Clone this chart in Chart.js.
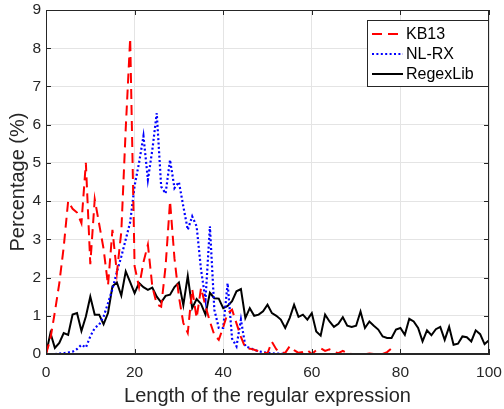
<!DOCTYPE html>
<html><head><meta charset="utf-8">
<script src="https://cdn.jsdelivr.net/npm/chart.js@4/dist/chart.umd.min.js"></script>
<style>html,body{margin:0;padding:0;background:#fff}#wrap{width:504px;height:409px}canvas{display:block}</style>
</head><body>
<div id="wrap"><canvas id="c" width="504" height="409"></canvas></div>
<script>
const lengths = [0,1,2,3,4,5,6,7,8,9,10,11,12,13,14,15,16,17,18,19,20,21,22,23,24,25,26,27,28,29,30,31,32,33,34,35,36,37,38,39,40,41,42,43,44,45,46,47,48,49,50,51,52,53,54,55,56,57,58,59,60,61,62,63,64,65,66,67,68,69,70,71,72,73,74,75,76,77,78,79,80,81,82,83,84,85,86,87,88,89,90,91,92,93,94,95,96,97,98,99,100];
const seriesNames = ["KB13", "NL-RX", "RegexLib"];
const kb13 = [0,0.4,1.1,1.85,2.8,4.0,3.8,3.7,3.42,5.0,2.35,4.05,3.4,2.75,1.8,3.25,2.12,3.2,5.9,8.26,2.3,1.75,2.4,2.86,1.77,1.3,1.24,2.3,4.0,2.5,1.5,0.81,0.55,1.7,0.94,1.73,1.25,0.85,0.5,0.37,0.7,1.07,1.16,0.8,0.45,0.16,0.14,0.11,0.07,0.04,0.02,0.32,0.12,0.04,0.03,0.2,0.1,0.03,0.05,0.1,0.0,0.1,0.15,0.08,0.12,0.06,0.02,0.08,0.02,0,0,0,0,0.01,0,0,0,0.05,0.15];
const nlrx = [0,0,0,0.01,0.02,0.04,0.06,0.13,0.24,0.17,0.46,0.68,0.77,0.98,1.33,1.7,2.15,2.55,3.0,3.45,4.4,5.0,5.7,4.56,5.34,6.3,4.38,4.2,5.08,4.34,4.5,3.86,3.25,3.6,3.34,2.2,1.42,3.34,1.16,0.68,0.68,1.85,0.4,0.2,0.9,0.2,0.16,0.11,0.07,0.05,0.03,0.02,0.01,0.01,0];
const regexlib = [0,0.55,0.16,0.29,0.55,0.5,1.03,1.07,0.6,0.98,1.5,1.03,1.03,0.78,1.07,1.77,1.87,1.53,2.16,1.88,1.59,1.86,1.75,1.68,1.74,1.5,1.35,1.52,1.55,1.75,1.87,1.28,2.04,1.2,1.44,1.31,1.03,1.6,1.46,1.45,1.2,1.26,1.38,1.64,1.7,0.94,1.2,1.0,1.03,1.12,1.29,1.07,1.0,0.9,0.68,0.94,1.29,0.97,1.03,0.9,1.07,0.59,0.48,1.03,0.85,0.71,0.79,0.96,0.74,0.71,0.74,1.11,0.68,0.85,0.74,0.64,0.46,0.42,0.42,0.64,0.68,0.5,0.92,0.85,0.68,0.33,0.62,0.49,0.65,0.71,0.37,0.71,0.24,0.27,0.46,0.44,0.33,0.62,0.52,0.26,0.36];
const xTicks = [0,20,40,60,80,100];
const yTicks = [0,1,2,3,4,5,6,7,8,9];
const xTitle = "Length of the regular expression";
const yTitle = "Percentage (%)";

const FONT = "'Liberation Sans', Arial, Helvetica, sans-serif";
const AXC = '#262626';
function pts(arr){ return arr.map((v,i)=>({x: lengths[i], y: v})); }

const styles = [
  {borderColor:'#ff0000', borderDash:[10,6], borderWidth:2},
  {borderColor:'#0000ff', borderDash:[2,2.4], borderWidth:2.2},
  {borderColor:'#000000', borderDash:[], borderWidth:2}
];
const datasets = [kb13, nlrx, regexlib].map((arr,k)=>Object.assign({
  label: seriesNames[k], data: pts(arr), pointRadius:0, tension:0, fill:false
}, styles[k]));

const framePlugin = {
  id:'frame',
  afterDatasetsDraw(chart){
    const {ctx, chartArea:a, scales:{x,y}} = chart;
    ctx.save();
    ctx.strokeStyle = AXC; ctx.lineWidth = 1;
    ctx.beginPath();
    ctx.moveTo(a.left, a.top+0.5); ctx.lineTo(a.right, a.top+0.5);
    ctx.moveTo(a.right-0.5, a.top); ctx.lineTo(a.right-0.5, a.bottom);
    ctx.moveTo(a.left+0.5, a.top); ctx.lineTo(a.left+0.5, a.bottom);
    ctx.moveTo(a.left, a.bottom-0.5); ctx.lineTo(a.right, a.bottom-0.5);
    const tl = 5;
    xTicks.forEach(v=>{ const px = Math.round(x.getPixelForValue(v))+0.5;
      ctx.moveTo(px, a.bottom); ctx.lineTo(px, a.bottom-tl);
      ctx.moveTo(px, a.top); ctx.lineTo(px, a.top+tl); });
    yTicks.forEach(v=>{ const py = Math.round(y.getPixelForValue(v))+0.5;
      ctx.moveTo(a.left, py); ctx.lineTo(a.left+tl, py);
      ctx.moveTo(a.right, py); ctx.lineTo(a.right-tl, py); });
    ctx.stroke();
    // legend
    const L = 367.5, T = 20.5, W = 121, H = 66;
    ctx.fillStyle = '#fff'; ctx.fillRect(L, T, W, H);
    ctx.strokeStyle = AXC; ctx.lineWidth = 1; ctx.strokeRect(L, T, W, H);
    ctx.font = "16px " + FONT; ctx.textBaseline = 'middle'; ctx.fillStyle = '#000';
    const rows = [34, 54, 74];
    chart.data.datasets.forEach((ds,i)=>{
      ctx.save();
      ctx.strokeStyle = ds.borderColor; ctx.lineWidth = ds.borderWidth;
      ctx.setLineDash(ds.borderDash || []);
      ctx.beginPath(); ctx.moveTo(372, rows[i]); ctx.lineTo(403, rows[i]); ctx.stroke();
      ctx.restore();
      ctx.fillText(ds.label, 406, rows[i]+1);
    });
    ctx.restore();
  }
};

new Chart(document.getElementById('c'), {
  type:'line',
  data:{datasets},
  options:{
    responsive:false, animation:false, devicePixelRatio:1,
    layout:{padding:{left:0,right:15,top:10,bottom:0}},
    plugins:{legend:{display:false}, tooltip:{enabled:false}},
    scales:{
      x:{type:'linear', min:0, max:100,
        afterFit(s){ s.height = 55; s.paddingLeft = 0; s.paddingRight = 0; s.paddingTop = 0; s.paddingBottom = 0; },
        afterBuildTicks(s){ s.ticks = xTicks.map(v=>({value:v})); },
        ticks:{color:AXC, font:{size:15.5, family:FONT}, padding:9, maxRotation:0},
        grid:{color:'#e4e4e4', drawTicks:false},
        border:{color:AXC, width:1},
        title:{display:true, text:xTitle, color:AXC, font:{size:20, family:FONT}, padding:{top:0,bottom:1}}
      },
      y:{type:'linear', min:0, max:9,
        afterFit(s){ s.width = 46; s.paddingLeft = 0; s.paddingRight = 0; s.paddingTop = 0; s.paddingBottom = 0; },
        afterBuildTicks(s){ s.ticks = yTicks.map(v=>({value:v})); },
        ticks:{color:AXC, font:{size:15.5, family:FONT}, padding:5},
        grid:{color:'#e4e4e4', drawTicks:false},
        border:{color:AXC, width:1},
        title:{display:true, text:yTitle, color:AXC, font:{size:20, family:FONT}, padding:{top:6,bottom:0}}
      }
    }
  },
  plugins:[framePlugin]
});
</script>
</body></html>
